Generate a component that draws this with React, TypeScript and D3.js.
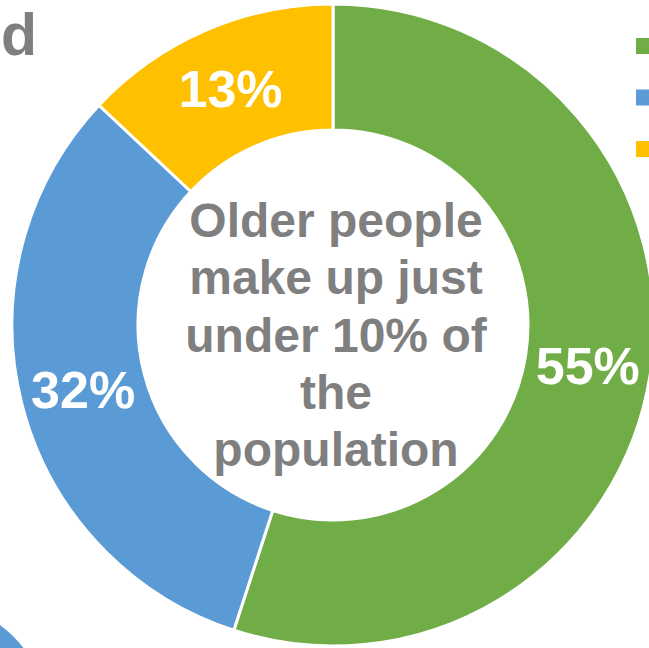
import React from "react";
import * as d3 from "d3";

const categories = ["Group A", "Group B", "Group C"];
const values = [55, 32, 13];
const labels = ["55%", "32%", "13%"];
const colors = ["#70AD47", "#5B9BD5", "#FFC000"];
const centerLines = ["Older people", "make up just", "under 10% of", "the", "population"];

const W = 649;
const H = 648;
const cx = 333;
const cy = 325;
const outerR = 321;
const innerR = 195;

export default function App() {
  const pie = d3.pie<number>().sort(null).value((d) => d)(values);
  const arc = d3.arc<d3.PieArcDatum<number>>().innerRadius(innerR).outerRadius(outerR);
  const labelArc = d3
    .arc<d3.PieArcDatum<number>>()
    .innerRadius((innerR + outerR) / 2)
    .outerRadius((innerR + outerR) / 2);
  const legendY = d3.scaleBand<string>().domain(categories).range([38, 157]).paddingInner(0.689);
  const lineY = d3.scalePoint<number>().domain(d3.range(centerLines.length)).range([237, 466]);
  const font = "'Liberation Sans', Arial, sans-serif";
  return (
    <svg
      width={W}
      height={H}
      style={{ position: "absolute", left: 0, top: 0, background: "#fff" }}
      fontFamily={font}
    >
      <text x={1} y={55} fontSize={59} fontWeight="bold" fill="#7F7F7F">
        d
      </text>
      <circle cx={-70} cy={720} r={118} fill="#5B9BD5" />
      <g transform={`translate(${cx},${cy})`}>
        {pie.map((p, i) => (
          <path key={i} d={arc(p) || ""} fill={colors[i]} stroke="#fff" strokeWidth={3} />
        ))}
        {pie.map((p, i) => {
          const [x, y] = labelArc.centroid(p);
          return (
            <text
              key={i}
              x={x}
              y={y}
              dy="0.36em"
              textAnchor="middle"
              fontSize={52}
              fontWeight="bold"
              fill="#fff"
            >
              {labels[i]}
            </text>
          );
        })}
      </g>
      {centerLines.map((t, i) => (
        <text
          key={i}
          x={336}
          y={lineY(i)}
          textAnchor="middle"
          fontSize={48}
          fontWeight="bold"
          fill="#7F7F7F"
        >
          {t}
        </text>
      ))}
      {categories.map((c, i) => (
        <rect
          key={c}
          x={636}
          y={legendY(c)}
          width={16}
          height={legendY.bandwidth()}
          fill={colors[i]}
        />
      ))}
    </svg>
  );
}
